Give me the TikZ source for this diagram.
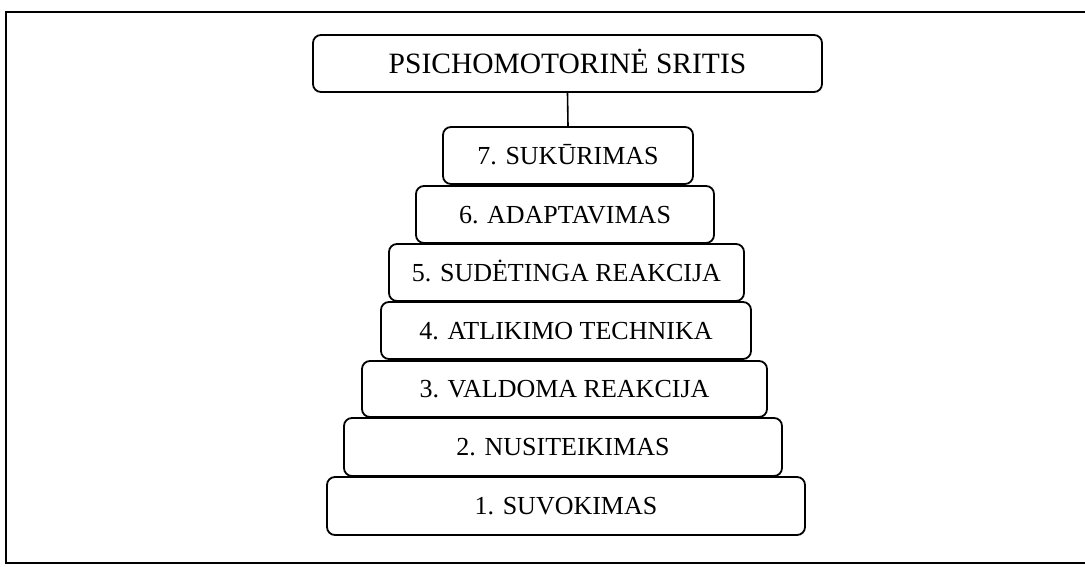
\documentclass[tikz,border=0pt]{standalone}
\usepackage{fontspec}
\setmainfont{Liberation Serif}
\begin{document}
\begin{tikzpicture}[x=1pt,y=-1pt,
  level/.style={draw, line width=1.8pt, rounded corners=8pt, inner sep=0pt,
    minimum height=57pt, font=\fontsize{26}{26}\selectfont, text height=17.5pt, text depth=0pt},
  title/.style={level, font=\fontsize{29.5}{29.5}\selectfont, text height=19.5pt}]
  \useasboundingbox (0,0) rectangle (1085,566);
  % outer frame, open on the right where the page ends
  \draw[line width=2pt] (1086,12) -- (6,12) -- (6,563) -- (1086,563);
  % heading
  \node[title, minimum width=509pt] (top) at (567.5,63.5) {PSICHOMOTORINĖ SRITIS};
  % stacked levels, narrowest on top
  \node[level, minimum width=250pt] (b7) at (568,155.5) {7. SUKŪRIMAS};
  \node[level, minimum width=298pt] (b6) at (565,214.5) {6. ADAPTAVIMAS};
  \node[level, minimum width=355pt] (b5) at (566.5,272.5) {5. SUDĖTINGA REAKCIJA};
  \node[level, minimum width=370pt] (b4) at (566,330.5) {4. ATLIKIMO TECHNIKA};
  \node[level, minimum width=405pt, minimum height=56pt] (b3) at (564.5,389) {3. VALDOMA REAKCIJA};
  \node[level, minimum width=438pt, minimum height=58pt] (b2) at (563,447) {2. NUSITEIKIMAS};
  \node[level, minimum width=478pt, minimum height=58pt] (b1) at (566,506) {1. SUVOKIMAS};
  % link from heading to the top level
  \draw[line width=1.6pt] (top.south) -- (b7.north);
\end{tikzpicture}
\end{document}
